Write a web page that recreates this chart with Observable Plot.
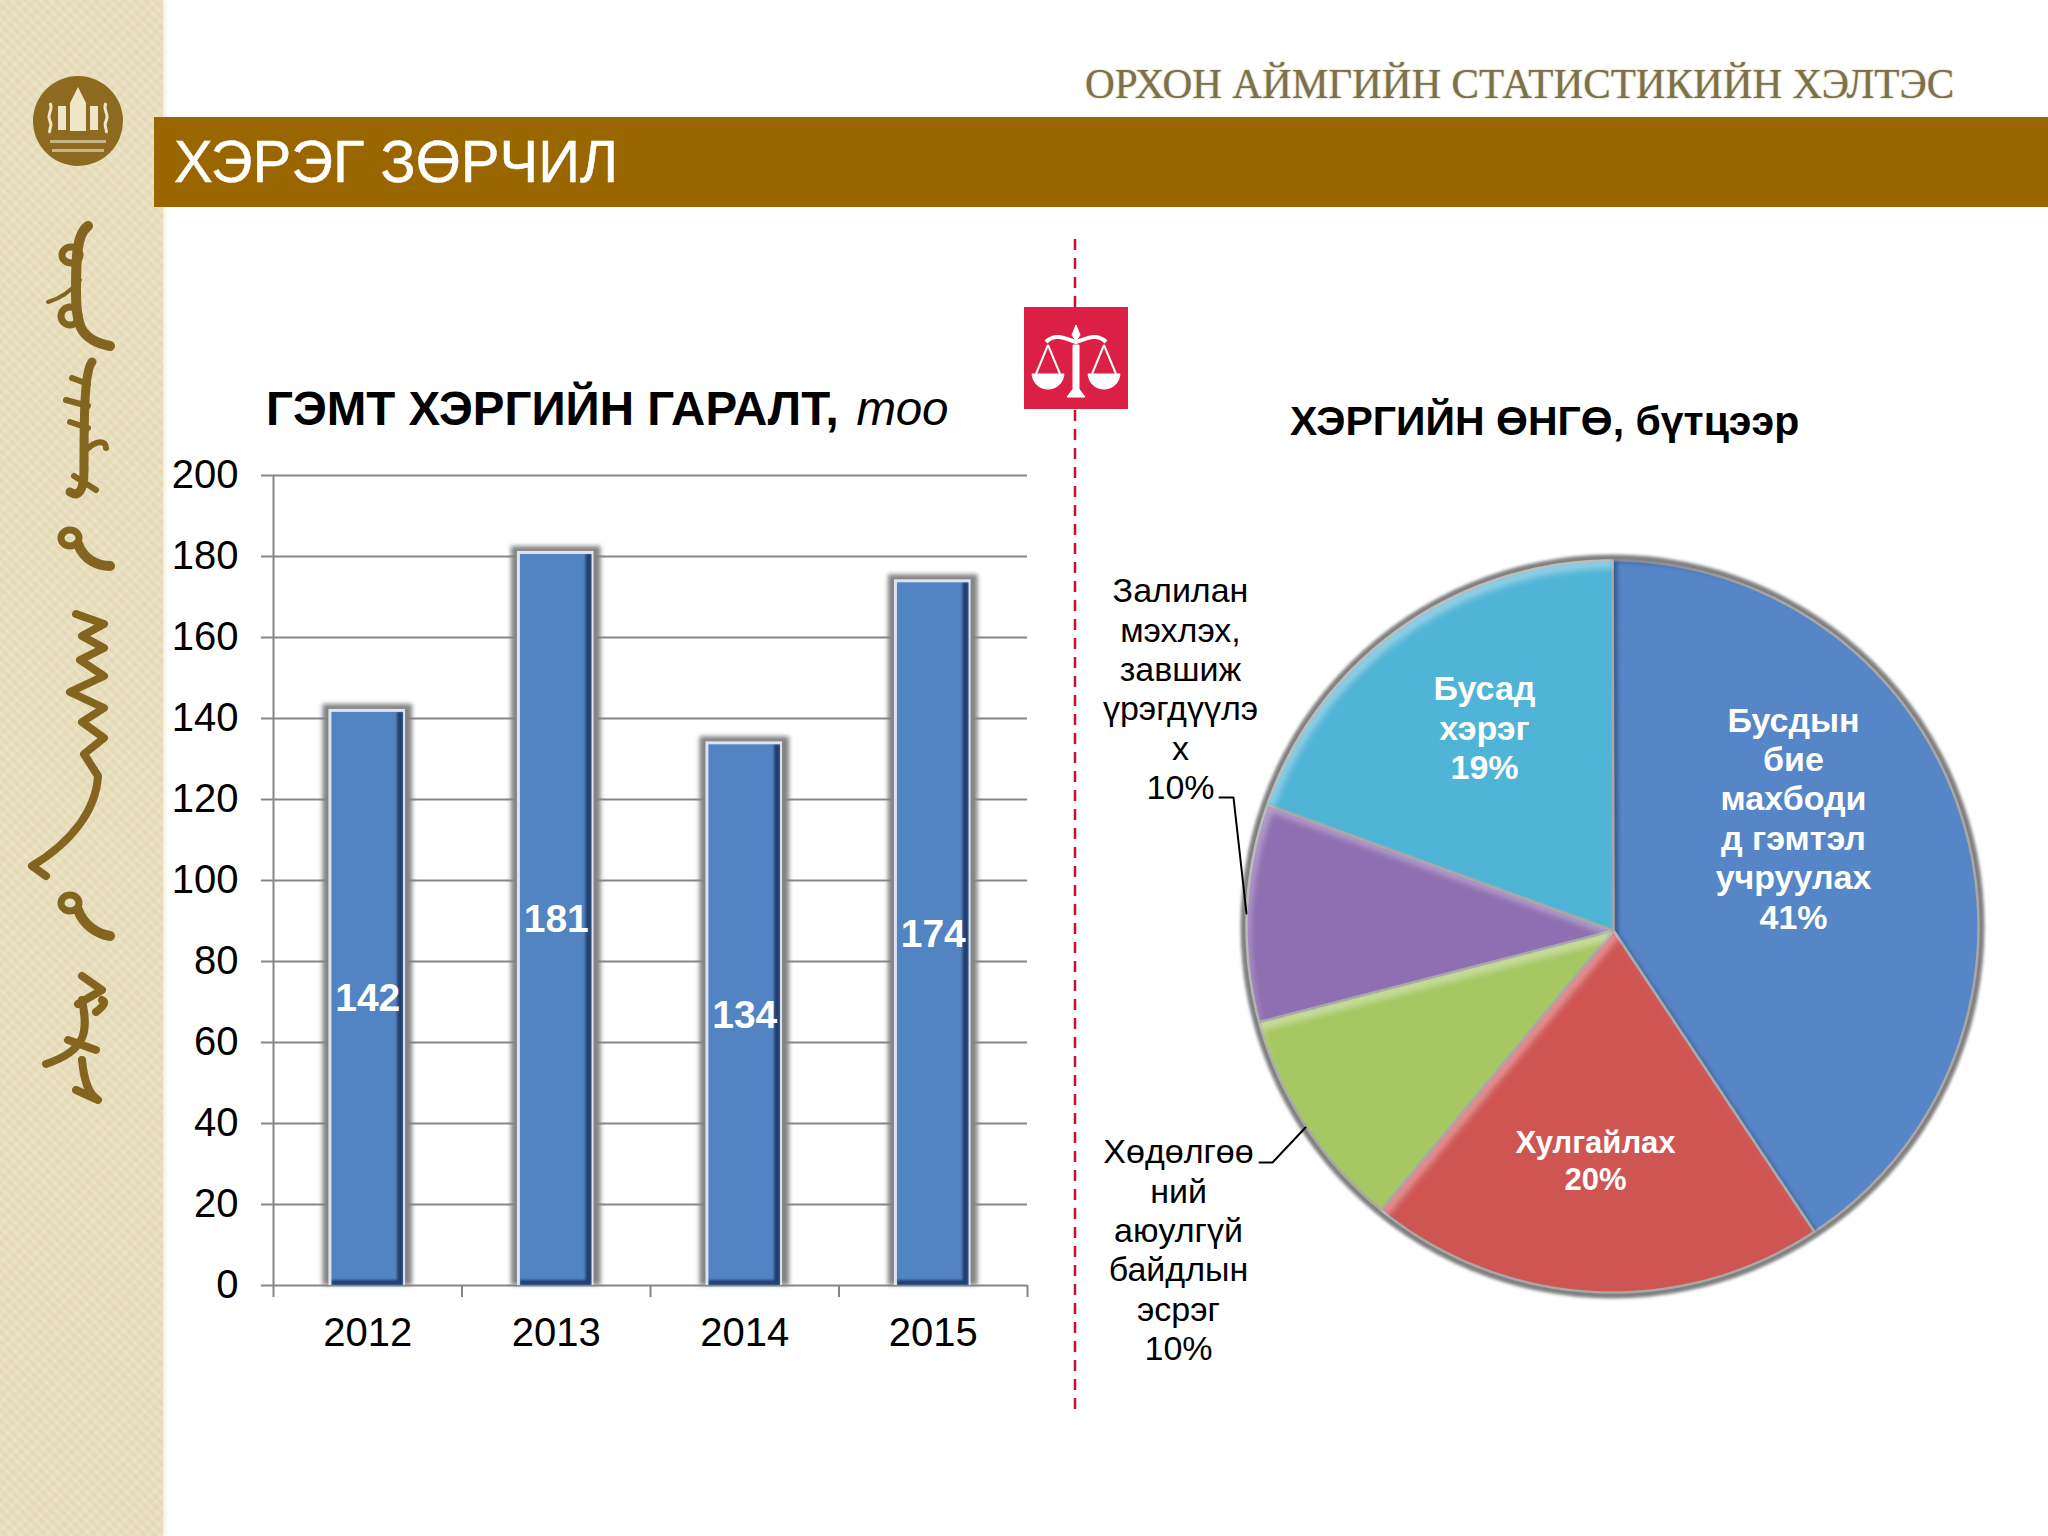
<!DOCTYPE html>
<html><head><meta charset="utf-8">
<script src="https://cdn.jsdelivr.net/npm/d3@7"></script>
<script src="https://cdn.jsdelivr.net/npm/@observablehq/plot@0.6"></script>
<style>
html,body{margin:0;padding:0;background:#fff;}
body{position:relative;width:2048px;height:1536px;overflow:hidden;font-family:"Liberation Sans",Arial,sans-serif;}
.abs{position:absolute;white-space:nowrap;line-height:1;}
#side{left:0;top:0;width:163px;height:1536px;background-color:#e8dfbd;
 background-image:repeating-linear-gradient(45deg,rgba(255,255,255,.09) 0 3px,rgba(170,150,90,.04) 3px 7px),repeating-linear-gradient(-45deg,rgba(255,255,255,.06) 0 4px,rgba(170,150,90,.03) 4px 9px);
 box-shadow:2px 0 4px rgba(232,223,189,.6);}
#band{left:154px;top:117px;width:1894px;height:90px;background:#996600;}
</style></head><body>
<div class="abs" id="side"></div>
<svg class="abs" style="left:0;top:0" width="163" height="1200" viewBox="0 0 163 1200">
 <circle cx="78" cy="121" r="45" fill="#8d6a1f"/>
 <g fill="#efe6c8">
  <path d="M78,87 l4,8 l4,8 v28 h-16 v-28 l4,-8z"/>
  <rect x="58" y="106" width="8" height="24"/><rect x="90" y="106" width="8" height="24"/>
  <path d="M50,103 c4,8 -4,10 0,18 c3,6 -2,8 0,12" fill="none" stroke="#efe6c8" stroke-width="3"/>
  <path d="M106,103 c-4,8 4,10 0,18 c-3,6 2,8 0,12" fill="none" stroke="#efe6c8" stroke-width="3"/>
  <rect x="50" y="140" width="56" height="3" opacity=".6"/><rect x="52" y="149" width="52" height="3" opacity=".6"/>
 </g>
 <g fill="none" stroke="#84651f" stroke-width="10" stroke-linecap="round" stroke-linejoin="round">
  <path d="M88,226 C76,234 76,262 76,292 C76,325 80,340 110,346" />
  <ellipse cx="71" cy="255" rx="9" ry="8" stroke-width="7"/><ellipse cx="70" cy="316" rx="9" ry="9" stroke-width="7"/>
  <path d="M48,302 C62,298 72,290 80,280" stroke-width="4"/>
  <path d="M92,362 C84,372 84,420 84,470 C84,492 78,497 70,492" stroke-width="9"/>
  <path d="M72,378 L88,384 M66,400 L88,406 M70,422 L88,428 M86,450 C96,440 106,440 106,448 M74,476 L96,490" stroke-width="6"/>
  <ellipse cx="70" cy="538" rx="9" ry="8" stroke-width="7"/><path d="M78,544 C84,560 98,566 110,566"/>
  <path d="M76,614 L104,624 L82,636 L104,648 L80,660 L104,676 L70,692 L104,708 L82,722 L104,738 L84,754 L98,776 C96,810 72,842 32,866 L46,876" stroke-width="8"/>
  <ellipse cx="70" cy="903" rx="9" ry="8" stroke-width="7"/><path d="M78,910 C84,926 98,934 110,936"/>
  <path d="M82,976 L102,990 L78,1004 M96,1012 C104,1006 106,1002 102,1000 M82,1000 C88,1030 88,1050 46,1064 M68,1040 L96,1050 M82,1060 C84,1080 88,1094 98,1100 L76,1090" stroke-width="8"/>
 </g>
</svg>
<div class="abs" id="band"></div>
<div class="abs" style="left:174px;top:132px;font-size:60px;color:#fff;transform:scaleX(.968);transform-origin:0 0;-webkit-text-stroke:.5px #fff;">ХЭРЭГ ЗӨРЧИЛ</div>
<div class="abs" style="left:1085px;top:64px;font-family:'Liberation Serif',serif;font-size:41.2px;color:#7c7148;text-shadow:0 0 2px #b5ad8c;">ОРХОН АЙМГИЙН СТАТИСТИКИЙН ХЭЛТЭС</div>
<div class="abs" style="left:266px;top:385px;font-size:47.5px;color:#000;"><b>ГЭМТ ХЭРГИЙН ГАРАЛТ,</b><i style="margin-left:18px">тоо</i></div>
<div class="abs" style="left:1290px;top:401px;font-size:41px;color:#000;font-weight:bold;">ХЭРГИЙН ӨНГӨ, бүтцээр</div>
<svg class="abs" style="left:1020px;top:235px" width="112" height="1190" viewBox="1020 235 112 1190">
 <line x1="1075" y1="239" x2="1075" y2="1416" stroke="#c8102e" stroke-width="2.5" stroke-dasharray="11 8"/>
 <rect x="1024" y="307" width="104" height="102" fill="#dc1f45"/>
 <g fill="#fff" stroke="#fff">
  <path d="M1076,325 l4,10 l-4,6 l-4,-6z"/>
  <path d="M1046,342 C1056,332 1068,340 1076,342 C1084,340 1096,332 1106,342" fill="none" stroke-width="4"/>
  <path d="M1073,345 h6 v44 l6,8 h-18 l6,-8z" stroke-width="1"/>
  <path d="M1048,345 L1036,374 M1048,345 L1060,374 M1104,345 L1092,374 M1104,345 L1116,374" fill="none" stroke-width="2"/>
  <path d="M1032,374 h32 c-2,20 -30,20 -32,0z M1088,374 h32 c-2,20 -30,20 -32,0z"/>
 </g>
</svg>
<svg style="position:absolute;width:0;height:0" aria-hidden="true"><defs>
 <filter id="barBevel" x="-5%" y="-5%" width="110%" height="110%" color-interpolation-filters="sRGB">
  <feOffset in="SourceAlpha" dx="-6" dy="-5" result="o"/>
  <feComposite in="SourceAlpha" in2="o" operator="out" result="e"/>
  <feGaussianBlur in="e" stdDeviation="1" result="eb"/>
  <feFlood flood-color="#10264d" flood-opacity=".72"/>
  <feComposite in2="eb" operator="in" result="d0"/>
  <feComposite in="d0" in2="SourceAlpha" operator="in" result="dark"/>
  <feMerge><feMergeNode in="SourceGraphic"/><feMergeNode in="dark"/></feMerge>
 </filter>
 <filter id="sliceLight" x="-5%" y="-5%" width="110%" height="110%" color-interpolation-filters="sRGB">
  <feOffset in="SourceAlpha" dx="5" dy="9" result="o"/>
  <feComposite in="SourceAlpha" in2="o" operator="out" result="e"/>
  <feGaussianBlur in="e" stdDeviation="3" result="eb"/>
  <feFlood flood-color="#fff" flood-opacity=".38"/>
  <feComposite in2="eb" operator="in" result="d0"/>
  <feComposite in="d0" in2="SourceAlpha" operator="in" result="light"/>
  <feMerge><feMergeNode in="SourceGraphic"/><feMergeNode in="light"/></feMerge>
 </filter>
 <filter id="sliceDark" x="-5%" y="-5%" width="110%" height="110%" color-interpolation-filters="sRGB">
  <feOffset in="SourceAlpha" dx="6" dy="3" result="o"/>
  <feComposite in="SourceAlpha" in2="o" operator="out" result="e"/>
  <feGaussianBlur in="e" stdDeviation="2" result="eb"/>
  <feFlood flood-color="#1f3a66" flood-opacity=".6"/>
  <feComposite in2="eb" operator="in" result="d0"/>
  <feComposite in="d0" in2="SourceAlpha" operator="in" result="dark"/>
  <feMerge><feMergeNode in="SourceGraphic"/><feMergeNode in="dark"/></feMerge>
 </filter>
</defs></svg>
<div class="abs" id="bars" style="left:170px;top:450px"></div>
<div class="abs" id="pie" style="left:1090px;top:520px"></div>
<script>
// Bar chart data
const years = [2012, 2013, 2014, 2015];
const counts = [142, 181, 134, 174];
const yTicks = [0, 20, 40, 60, 80, 100, 120, 140, 160, 180, 200];
const bandEdges = [2011.5, 2012.5, 2013.5, 2014.5, 2015.5];

// Pie chart data: printed labels and the slice shares
const sliceNames = ["Бусдын\nбие\nмахбоди\nд гэмтэл\nучруулах\n41%", "Хулгайлах\n20%", "Хөдөлгөө\nний\nаюулгүй\nбайдлын\nэсрэг\n10%", "Залилан\nмэхлэх,\nзавшиж\nүрэгдүүлэ\nх\n10%", "Бусад\nхэрэг\n19%"];
const sliceShares = [40.7, 20.2, 9.9, 9.6, 19.6];
const sliceColors = ["#5686c8", "#cf5553", "#a6c762", "#8e6fb1", "#50b4d6"];

const halfBar = 0.19;
const bars = years.map((year, i) => ({year, value: counts[i], x1: year - halfBar, x2: year + halfBar}));
const gray = "#868686";

const barChart = Plot.plot({
  width: 877, height: 950,
  marginLeft: 103, marginRight: 20, marginTop: 25, marginBottom: 115,
  style: {fontFamily: "'Liberation Sans', Arial, sans-serif", background: "transparent", overflow: "visible"},
  x: {domain: [2011.5, 2015.5]},
  y: {domain: [0, 200]},
  marks: [
    Plot.ruleY(yTicks, {stroke: gray, strokeWidth: 2}),
    Plot.ruleX([2011.5], {stroke: gray, strokeWidth: 2}),
    Plot.axisY({ticks: yTicks, tickSize: 12, tickPadding: 23, stroke: gray, strokeWidth: 2, fill: "#000", fontSize: 40, label: null, tickFormat: d => d}),
    Plot.axisX({ticks: bandEdges, tickSize: 12, tickFormat: () => "", stroke: gray, strokeWidth: 2, label: null}),
    Plot.axisX({ticks: years, tickSize: 0, tickPadding: 32, fill: "#000", fontSize: 40, label: null, tickFormat: d => String(d)}),
    Plot.rectY(bars, {x1: "x1", x2: "x2", y1: 0, y2: "value", fill: "#848484", insetLeft: -9, insetRight: -9, insetTop: -6, imageFilter: "blur(2px)"}),
    Plot.rectY(bars, {x1: "x1", x2: "x2", y1: 0, y2: "value", fill: "#dde4ef", insetLeft: -3, insetRight: -2, insetTop: -1}),
    Plot.rectY(bars, {x1: "x1", x2: "x2", y1: 0, y2: "value", fill: "#5283c3", insetTop: 2, imageFilter: "url(#barBevel)"}),
    Plot.text(bars, {x: "year", y: d => d.value / 2, dy: 1, text: d => String(d.value), fill: "#fff", fontWeight: "bold", fontSize: 39})
  ]
});
document.getElementById("bars").append(barChart);

// Slice outlines from the shares, in px-sized scale units around the pie centre
const radius = 366;
const hub = [1, 4];
const arcs = d3.pie().sort(null)(sliceShares);
function sliceOutline(a) {
  const pts = [hub];
  const n = Math.ceil((a.endAngle - a.startAngle) * 60);
  for (let k = 0; k <= n; k++) {
    const t = a.startAngle + (a.endAngle - a.startAngle) * k / n;
    pts.push([radius * Math.sin(t), -radius * Math.cos(t)]);
  }
  pts.push(hub);
  return pts;
}
const textLayout = [
  {x: 181, y: -223, size: 34, lh: 1.16, color: "#fff", weight: "bold"},
  {x: -17, y: 201, size: 31, lh: 1.17, color: "#fff", weight: "bold"},
  {x: -434, y: 209, size: 34, lh: 1.156, color: "#000", weight: "normal"},
  {x: -432, y: -352, size: 34, lh: 1.156, color: "#000", weight: "normal"},
  {x: -128, y: -254, size: 34, lh: 1.156, color: "#fff", weight: "bold"}
];
const leaders = [
  {id: "a", pts: [[-393, -129], [-379, -129], [-366, -13]]},
  {id: "b", pts: [[-353, 236], [-340, 236], [-307, 201]]}
];

const pieChart = Plot.plot({
  width: 950, height: 880,
  margin: 0,
  style: {fontFamily: "'Liberation Sans', Arial, sans-serif", background: "transparent", overflow: "visible"},
  x: {domain: [-522, 428], range: [0, 950], axis: null},
  y: {domain: [-406, 474], range: [0, 880], axis: null},
  marks: [
    Plot.dot([[0, 0]], {x: d => d[0], y: d => d[1], r: radius + 6, fill: "#808080", imageFilter: "blur(1.5px)"}),
    ...arcs.map((a, i) => Plot.line(sliceOutline(a), {
      x: d => d[0], y: d => d[1], fill: sliceColors[i], stroke: "#a8a8a8", strokeWidth: 2.5, curve: "linear",
      strokeLinejoin: "round", imageFilter: i === 0 ? "url(#sliceDark)" : "url(#sliceLight)"
    })),
    ...leaders.map(l => Plot.line(l.pts, {x: d => d[0], y: d => d[1], stroke: "#000", strokeWidth: 2, curve: "linear"})),
    ...sliceNames.map((name, i) => {
      const t = textLayout[i];
      return Plot.text([name], {x: () => t.x, y: () => t.y, text: d => d, fill: t.color, fontWeight: t.weight, fontSize: t.size, lineHeight: t.lh, lineAnchor: "top", textAnchor: "middle"});
    })
  ]
});
document.getElementById("pie").append(pieChart);
</script>
</body></html>
